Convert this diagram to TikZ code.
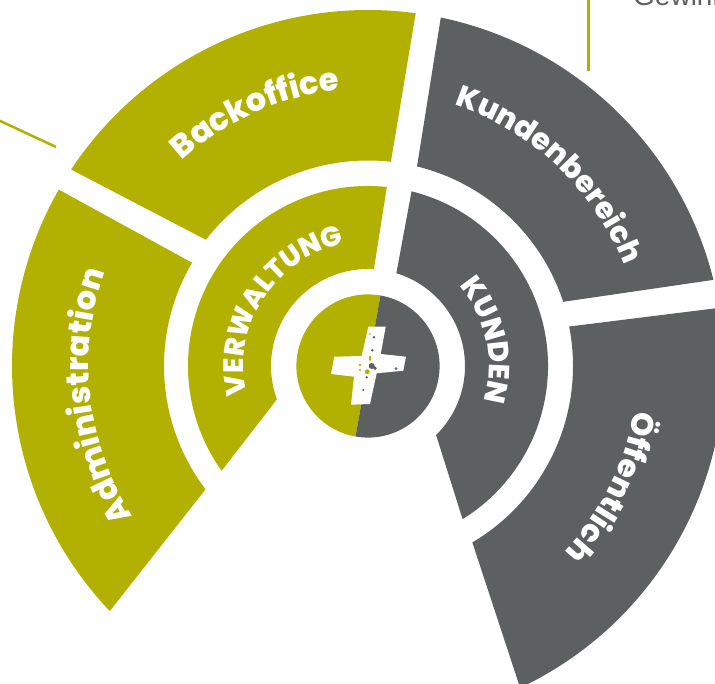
\documentclass[tikz,border=0pt]{standalone}
\usepackage{fontspec}
\usetikzlibrary{decorations.text}
\newfontfamily\labelfont[LetterSpace=3,BoldFont={Poppins ExtraBold}]{Poppins}
\setmainfont{Liberation Sans}
\definecolor{partolive}{RGB}{178,176,0}
\definecolor{partgrey}{RGB}{93,96,96}
\newcommand{\ringfont}[1]{\labelfont\bfseries\fontsize{#1}{#1}\selectfont}

\begin{document}
\begin{tikzpicture}[x=1pt,y=1pt]
  \tikzstyle{olivepart}=[fill=partolive]
  \tikzstyle{greypart}=[fill=partgrey]
  \tikzstyle{ringtext}=[decorate,decoration={text along path,text align=center,text color=white}]
  \tikzstyle{pointer}=[draw=partolive,line width=2.5pt]
  \useasboundingbox (0,0) rectangle (715,684);
  \clip (0,0) rectangle (715,684);

  % pointers and the cut-off text
  \coordinate (pointerAa) at (-4,565);
  \coordinate (pointerAb) at (56,537);
  \coordinate (pointerBa) at (588,690);
  \coordinate (pointerBb) at (588,613);
  \draw[pointer] (pointerAa) -- (pointerAb);
  \draw[pointer,line width=3pt] (pointerBa) -- (pointerBb);
  \node[anchor=base west,inner sep=0pt,text=partgrey,font=\fontsize{28}{28}\selectfont] (gewinn) at (633,678.5) {Gewinn};
  \fill[partgrey!60] (608,687) circle (3) (98,687) circle (3);

  \begin{scope}[shift={(368,318)}]
    % outer ring
    \fill[olivepart] (146.5:356) arc[start angle=146.5,end angle=82.3,radius=356] -- (83.6:205.5) arc[start angle=83.6,end angle=142.1,radius=205.5] -- cycle;
    \fill[olivepart] (150.3:356) arc[start angle=150.3,end angle=223.5,radius=356] -- (217.2:204) arc[start angle=217.2,end angle=149.6,radius=204] -- cycle;
    \fill[greypart] (78.2:356) arc[start angle=78.2,end angle=14,radius=356] -- (18.2:205.5) arc[start angle=18.2,end angle=76.2,radius=205.5] -- cycle;
    \fill[greypart] (9.4:356) arc[start angle=9.4,end angle=-64.7,radius=356] -- (-59.4:205) arc[start angle=-59.4,end angle=11.1,radius=205] -- cycle;
    % middle ring
    \fill[olivepart] (84:180) arc[start angle=84,end angle=215.6,radius=180] -- (200.1:97) arc[start angle=200.1,end angle=86.5,radius=97] -- cycle;
    \fill[greypart] (76:180) arc[start angle=76,end angle=-58.3,radius=180] -- (-45.4:97) arc[start angle=-45.4,end angle=73,radius=97] -- cycle;
    % hub
    \fill[olivepart] (80:71.6) arc[start angle=80,end angle=260,radius=71.6] -- cycle;
    \fill[greypart] (80:71.6) arc[start angle=80,end angle=-100,radius=71.6] -- cycle;
    % ring labels
    \path[ringtext,decoration={text={|\ringfont{32}|Backoffice}}] (154:277) arc[start angle=154,end angle=74,radius=277];
    \path[ringtext,decoration={text={|\ringfont{30}|Kundenbereich}}] (86.5:275) arc[start angle=86.5,end angle=6.5,radius=275];
    \path[ringtext,decoration={text={|\ringfont{31}|Öffentlich}}] (13.5:270) arc[start angle=13.5,end angle=-66.5,radius=270];
    \path[ringtext,decoration={text={|\ringfont{32}|Administration}}] (231.5:279) arc[start angle=231.5,end angle=141.5,radius=279];
    \path[ringtext,decoration={text={|\ringfont{28}|VERWALTUNG}}] (222:124) arc[start angle=222,end angle=72,radius=124];
    \path[ringtext,decoration={text={|\ringfont{29}|KUNDEN}}] (72.3:121) arc[start angle=72.3,end angle=-47.7,radius=121];
  \end{scope}

  % cross
  \fill[white] (368.3,357.3) -- (385.7,357.3) -- (380.7,330) -- (406,327.3) -- (403.3,313.3) -- (376.7,310.7) -- (370,280) -- (351,279.3) -- (354,307.3) -- (331,310) -- (334.3,327.3) -- (361.7,328) -- cycle;
  \fill[partgrey] (374,346.7) circle (1.3) (372.3,333.7) circle (1.4) (371.7,318) circle (3) (375,315.7) circle (1.8) (366.7,306.7) circle (1.3) (363.3,294) circle (1.2) (396,315.3) circle (1.5);
  \fill[partolive] (370,350) circle (1) (370,325.7) ellipse (1.2 and 2.6) (360,319) circle (1.4) (360,314) circle (1.1) (367.3,312.3) circle (2.4);
\end{tikzpicture}
\end{document}
